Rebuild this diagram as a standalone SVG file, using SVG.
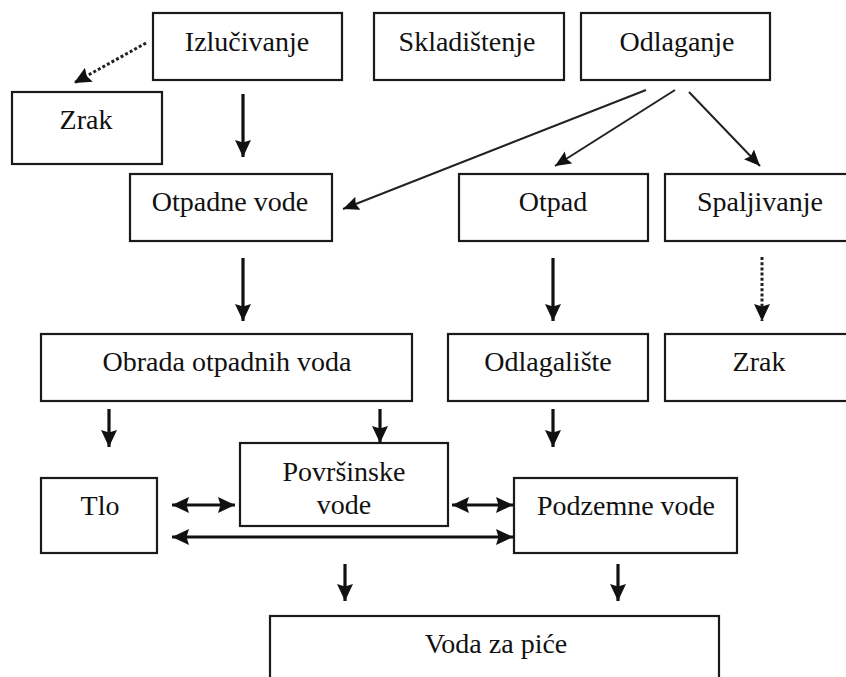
<svg xmlns="http://www.w3.org/2000/svg" width="846" height="677" viewBox="0 0 846 677">
<defs>
<style>
.box{fill:#fff;stroke:#1a1a1a;stroke-width:2.2}
.lbl{font-size:28px;fill:#111;text-anchor:middle}
.a{stroke:#111;stroke-width:3.2;fill:none}
.t{stroke:#222;stroke-width:2;fill:none}
.d{stroke:#222;stroke-width:3;fill:none;stroke-dasharray:3 2.2}
</style>
<marker id="h" markerUnits="userSpaceOnUse" markerWidth="18" markerHeight="17" refX="17" refY="8" orient="auto-start-reverse" viewBox="0 0 18 16">
<path d="M0,0 L17,8 L0,16 L2.5,8 Z" fill="#111"/>
</marker>
<marker id="hs" markerUnits="userSpaceOnUse" markerWidth="17" markerHeight="15" refX="16" refY="7" orient="auto-start-reverse" viewBox="0 0 17 14">
<path d="M0,0 L16,7 L0,14 L2.5,7 Z" fill="#111"/>
</marker>
</defs>
<rect width="846" height="677" fill="#fff"/>
<g font-family="'Liberation Serif', 'Times New Roman', 'DejaVu Serif', serif">
<g id="n-izlucivanje"><rect class="box" x="153" y="13" width="189" height="67"/><text class="lbl" x="247" y="51">Izlučivanje</text></g>
<g id="n-skladistenje"><rect class="box" x="374" y="13" width="190" height="67"/><text class="lbl" x="467" y="51">Skladištenje</text></g>
<g id="n-odlaganje"><rect class="box" x="581" y="13" width="189" height="67"/><text class="lbl" x="677" y="51">Odlaganje</text></g>
<g id="n-zrak1"><rect class="box" x="12" y="92" width="150" height="72"/><text class="lbl" x="86" y="129">Zrak</text></g>
<g id="n-otpadne"><rect class="box" x="130" y="174" width="202" height="67"/><text class="lbl" x="230" y="211">Otpadne vode</text></g>
<g id="n-otpad"><rect class="box" x="459" y="174" width="189" height="67"/><text class="lbl" x="553" y="211">Otpad</text></g>
<g id="n-spaljivanje"><rect class="box" x="665" y="174" width="190" height="67"/><text class="lbl" x="760" y="211">Spaljivanje</text></g>
<g id="n-obrada"><rect class="box" x="41" y="334" width="371" height="67"/><text class="lbl" x="227" y="371">Obrada otpadnih voda</text></g>
<g id="n-odlagaliste"><rect class="box" x="448" y="334" width="200" height="67"/><text class="lbl" x="548" y="371">Odlagalište</text></g>
<g id="n-zrak2"><rect class="box" x="665" y="334" width="190" height="67"/><text class="lbl" x="759" y="371">Zrak</text></g>
<g id="n-povrsinske"><rect class="box" x="240" y="443" width="208" height="83"/><text class="lbl" x="344" y="481">Površinske</text><text class="lbl" x="344" y="514">vode</text></g>
<g id="n-tlo"><rect class="box" x="41" y="478" width="116" height="75"/><text class="lbl" x="100" y="515">Tlo</text></g>
<g id="n-podzemne"><rect class="box" x="514" y="478" width="223" height="75"/><text class="lbl" x="626" y="515">Podzemne vode</text></g>
<g id="n-voda"><rect class="box" x="270" y="616" width="449" height="80"/><text class="lbl" x="496" y="653">Voda za piće</text></g>
</g>
<g id="connectors">
<line class="d" x1="146" y1="43" x2="74" y2="83" marker-end="url(#h)"/>
<line class="a" x1="243" y1="94" x2="243" y2="157" marker-end="url(#h)"/>
<line class="t" x1="646" y1="90" x2="343" y2="209" marker-end="url(#hs)"/>
<line class="t" x1="675" y1="90" x2="555" y2="166" marker-end="url(#hs)"/>
<line class="t" x1="689" y1="92" x2="760" y2="166" marker-end="url(#hs)"/>
<line class="a" x1="243" y1="258" x2="243" y2="321" marker-end="url(#h)"/>
<line class="a" x1="553" y1="258" x2="553" y2="321" marker-end="url(#h)"/>
<line class="d" x1="762" y1="257" x2="762" y2="321" marker-end="url(#h)"/>
<line class="a" x1="109" y1="409" x2="109" y2="447" marker-end="url(#h)"/>
<line class="a" x1="380" y1="409" x2="380" y2="443" marker-end="url(#h)"/>
<line class="a" x1="553" y1="409" x2="553" y2="447" marker-end="url(#h)"/>
<line class="a" x1="172" y1="505" x2="235" y2="505" marker-start="url(#h)" marker-end="url(#h)"/>
<line class="a" x1="452" y1="505" x2="513" y2="505" marker-start="url(#h)" marker-end="url(#h)"/>
<line class="a" x1="172" y1="537" x2="513" y2="537" marker-start="url(#h)" marker-end="url(#h)"/>
<line class="a" x1="345" y1="564" x2="345" y2="601" marker-end="url(#h)"/>
<line class="a" x1="618" y1="564" x2="618" y2="601" marker-end="url(#h)"/>
</g>
</svg>
